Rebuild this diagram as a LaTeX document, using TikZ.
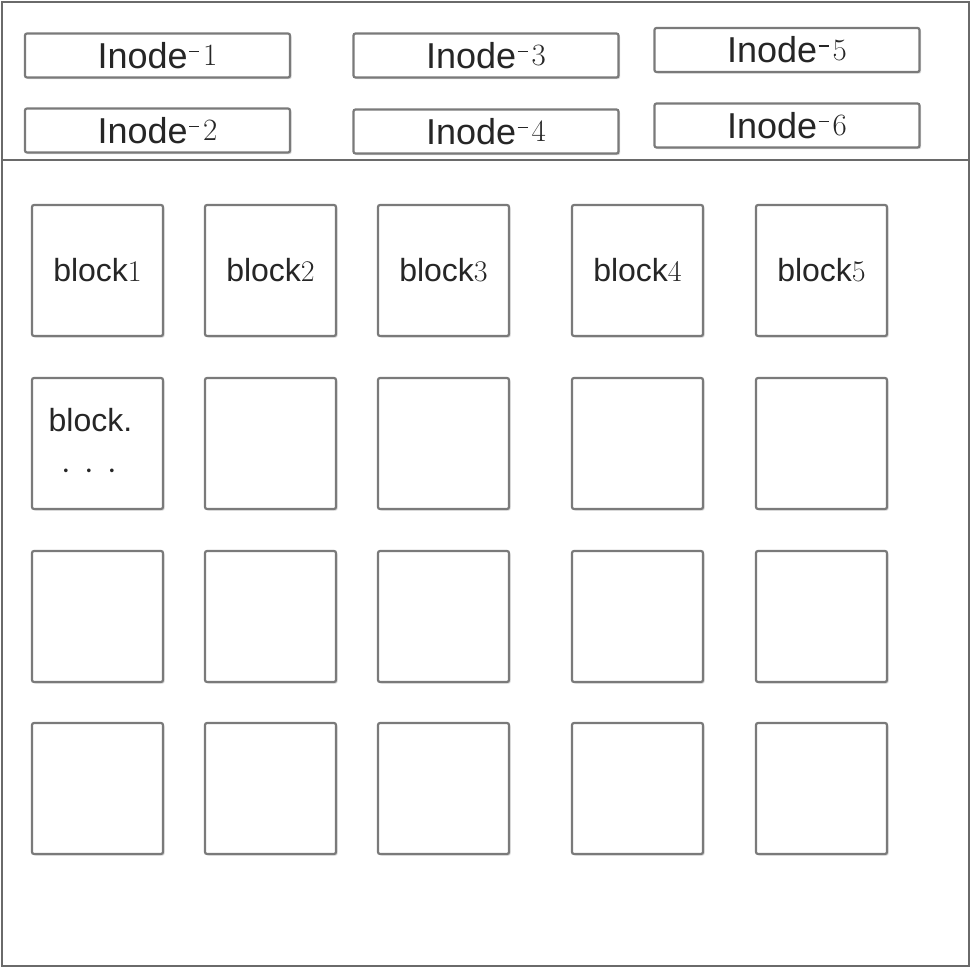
\documentclass[tikz,border=0pt]{standalone}
\usepackage{fontspec}
\setsansfont{Liberation Sans}
\usetikzlibrary{shadows}
\definecolor{edge}{HTML}{7A7A7A}
\definecolor{frame}{HTML}{6A6A6A}
\newcommand{\suf}[1]{{\rmfamily\fontsize{15.5}{16}\selectfont\kern0.8pt\rule[8pt]{5pt}{0.8pt}\kern2pt\raisebox{1.2pt}{#1}}}
\newcommand{\bsuf}[1]{{\rmfamily\fontsize{15}{16}\selectfont #1}}
\begin{document}
\begin{tikzpicture}[x=0.5pt,y=-0.5pt,
  boxbase/.style={draw=edge, line width=1.1pt, rounded corners=1pt, fill=white,
    drop shadow={shadow xshift=0.8pt, shadow yshift=-0.8pt, opacity=0.25, fill=black!60}},
  inodebox/.style={boxbase, minimum width=132.5pt, minimum height=22pt, inner sep=0pt,
    font=\sffamily\fontsize{18}{20}\selectfont, text=black!85},
  blockbox/.style={boxbase, minimum width=65.5pt, minimum height=65.5pt, inner sep=0pt,
    font=\sffamily\fontsize{16}{20}\selectfont, text=black!85}]
\useasboundingbox (0,0) rectangle (972,968);
\draw[frame, line width=1pt] (2,2) rectangle (969,966);
\coordinate (sepl) at (2,160);
\coordinate (sepr) at (969,160);
\draw[frame, line width=1pt] (sepl) -- (sepr);
% inode boxes
\node[inodebox] (i1) at (157.5,55.5) {Inode\suf{1}};
\node[inodebox] (i2) at (157.5,130.5) {Inode\suf{2}};
\node[inodebox] (i3) at (486,55.5) {Inode\suf{3}};
\node[inodebox] (i4) at (486,131.5) {Inode\suf{4}};
\node[inodebox] (i5) at (787,50) {Inode\suf{5}};
\node[inodebox] (i6) at (787,125.5) {Inode\suf{6}};
% blocks row 1
\node[blockbox] (b11) at (97.5,270.5) {block\bsuf{1}};
\node[blockbox] (b12) at (270.5,270.5) {block\bsuf{2}};
\node[blockbox] (b13) at (443.5,270.5) {block\bsuf{3}};
\node[blockbox] (b14) at (637.5,270.5) {block\bsuf{4}};
\node[blockbox] (b15) at (821.5,270.5) {block\bsuf{5}};
% row 2
\node[blockbox, align=center] (b21) at (97.5,443.5) {block.\hspace*{7pt}\\[4pt]{\fontsize{18}{16}\selectfont$\cdot\,\cdot\,\cdot$}\hspace*{8pt}};
\node[blockbox] (b22) at (270.5,443.5) {};
\node[blockbox] (b23) at (443.5,443.5) {};
\node[blockbox] (b24) at (637.5,443.5) {};
\node[blockbox] (b25) at (821.5,443.5) {};
% row 3
\node[blockbox] (b31) at (97.5,616.5) {};
\node[blockbox] (b32) at (270.5,616.5) {};
\node[blockbox] (b33) at (443.5,616.5) {};
\node[blockbox] (b34) at (637.5,616.5) {};
\node[blockbox] (b35) at (821.5,616.5) {};
% row 4
\node[blockbox] (b41) at (97.5,788.5) {};
\node[blockbox] (b42) at (270.5,788.5) {};
\node[blockbox] (b43) at (443.5,788.5) {};
\node[blockbox] (b44) at (637.5,788.5) {};
\node[blockbox] (b45) at (821.5,788.5) {};
\end{tikzpicture}
\end{document}
